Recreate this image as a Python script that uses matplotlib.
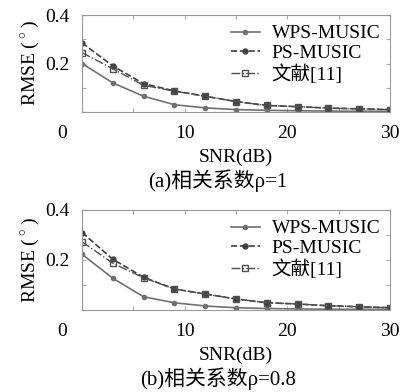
import matplotlib
matplotlib.use("Agg")
import matplotlib.pyplot as plt
from matplotlib.transforms import ScaledTranslation

plt.rcParams['font.family'] = ['Liberation Serif', 'Noto Sans CJK SC']
plt.rcParams['mathtext.fontset'] = 'cm'

snr = [0, 3, 6, 9, 12, 15, 18, 21, 24, 27, 30]

# (a) rho = 1
wps_a = [0.200, 0.120, 0.065, 0.030, 0.017, 0.010, 0.007, 0.005, 0.004, 0.003, 0.003]
ps_a = [0.285, 0.190, 0.117, 0.087, 0.065, 0.043, 0.027, 0.022, 0.016, 0.013, 0.010]
ref_a = [0.245, 0.178, 0.110, 0.086, 0.065, 0.043, 0.027, 0.022, 0.016, 0.013, 0.010]

# (b) rho = 0.8
wps_b = [0.223, 0.127, 0.053, 0.029, 0.016, 0.009, 0.006, 0.004, 0.003, 0.003, 0.002]
ps_b = [0.310, 0.203, 0.131, 0.084, 0.064, 0.044, 0.029, 0.024, 0.017, 0.013, 0.009]
ref_b = [0.273, 0.187, 0.129, 0.084, 0.064, 0.044, 0.029, 0.024, 0.017, 0.013, 0.009]

labels = ["WPS-MUSIC", "PS-MUSIC", "文献[11]"]
captions = ["(a)相关系数ρ=1", "(b)相关系数ρ=0.8"]

W, H = 406, 392
fig = plt.figure(figsize=(W / 100, H / 100), dpi=100)

# axes boxes in pixels: left, top, right, bottom
boxes = [(82, 15, 390, 112), (82, 210, 390, 310)]
data = [(wps_a, ps_a, ref_a), (wps_b, ps_b, ref_b)]

for (l, t, r, b), (wps, ps, ref), cap in zip(boxes, data, captions):
    ax = fig.add_axes([l / W, 1 - b / H, (r - l) / W, (b - t) / H])
    ax.plot(snr, wps, "-", color="#707070", lw=1.2, marker="o", ms=3,
            label=labels[0])
    ax.plot(snr, ps, "--", color="#404040", lw=1.2, marker="o", ms=3.5,
            label=labels[1])
    ax.plot(snr, ref, "-.", color="#505050", lw=1.0, marker="s", ms=4,
            mfc="none", label=labels[2])
    ax.set_xlim(0, 30)
    ax.set_ylim(0, 0.4)
    ax.set_xticks([0, 5, 10, 15, 20, 25, 30])
    ax.set_xticklabels(["0", "", "10", "", "20", "", "30"])
    ax.set_yticks([0, 0.1, 0.2, 0.3, 0.4])
    ax.set_yticklabels(["", "", "0.2", "", "0.4"])
    ax.tick_params(direction="in", top=True, right=True, length=3,
                   color="#aaaaaa", labelsize=14, pad=9)
    # the "0" label sits left of the axis corner in the original
    lab0 = ax.get_xticklabels()[0]
    lab0.set_transform(lab0.get_transform() +
                       ScaledTranslation(-0.2, 0, fig.dpi_scale_trans))
    for s in ax.spines.values():
        s.set_color("#999999")
        s.set_linewidth(0.8)
    ax.set_ylabel("RMSE ($^\\circ$)", fontsize=14, labelpad=3)
    ax.set_xlabel("SNR(dB)", fontsize=14, labelpad=5)
    ax.legend(loc="upper right", frameon=False, fontsize=14,
              handlelength=1.5, handletextpad=0.6, labelspacing=0.12,
              borderaxespad=0.1)
    fig.text(((l + r) / 2 - 18) / W, 1 - (b + 69) / H, cap, ha="center",
             va="center", fontsize=15)

fig.savefig("out.png", dpi=100)
